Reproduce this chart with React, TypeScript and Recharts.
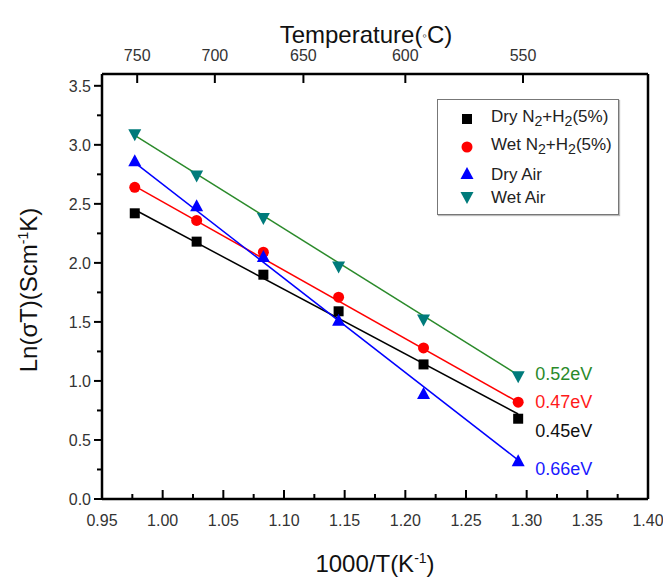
import React from 'react';
import {
  ComposedChart,
  XAxis,
  YAxis,
  Scatter,
  ReferenceLine,
} from 'recharts';

// 1000/T values of the measurement temperatures (750..500 C)
const xValues = [0.977, 1.028, 1.083, 1.145, 1.215, 1.293];
const dryN2 = [2.42, 2.18, 1.9, 1.59, 1.14, 0.68];
const wetN2 = [2.64, 2.36, 2.09, 1.71, 1.28, 0.82];
const dryAir = [2.86, 2.48, 2.05, 1.51, 0.89, 0.32];
const wetAir = [3.09, 2.74, 2.38, 1.97, 1.52, 1.04];

// linear fit end points
const fitX = [0.977, 1.293];
const dryN2Fit = [2.45, 0.72];
const wetN2Fit = [2.65, 0.82];
const dryAirFit = [2.85, 0.33];
const wetAirFit = [3.08, 1.05];

// activation energy labels
const evLabels = ['0.52eV', '0.47eV', '0.45eV', '0.66eV'];
const evY = [1.06, 0.825, 0.58, 0.254];
const evX = 1.307;

const bottomTicks = [
  0.95, 0.975, 1.0, 1.025, 1.05, 1.075, 1.1, 1.125, 1.15, 1.175, 1.2, 1.225,
  1.25, 1.275, 1.3, 1.325, 1.35, 1.375, 1.4,
];
const leftTicks = [
  0, 0.25, 0.5, 0.75, 1, 1.25, 1.5, 1.75, 2, 2.25, 2.5, 2.75, 3, 3.25, 3.5,
];
const topTickPos = [0.979, 1.043, 1.116, 1.2, 1.297];
const topTickLabels = ['750', '700', '650', '600', '550'];

const FONT = '"Liberation Sans", Arial, sans-serif';
const AXIS = '#000';
const LW = 2.5;
const TW = 2;

const toPoints = (ys: number[], xs: number[] = xValues) =>
  xs.map((x, i) => ({ x, y: ys[i] }));

const isMajor = (v: number, step: number) =>
  Math.abs(v / step - Math.round(v / step)) < 1e-6;

const BottomTick = (props: any) => {
  const { x, y, payload } = props;
  const v = payload.value;
  const major = isMajor(v, 0.05);
  const y0 = Number(y);
  return (
    <g>
      <line x1={x} x2={x} y1={y0} y2={y0 - (major ? 9 : 5)} stroke={AXIS} strokeWidth={TW} />
      {major && (
        <text x={x} y={y0 + 27} textAnchor="middle" fontSize={16} fill="#333" fontFamily={FONT}>
          {v.toFixed(2)}
        </text>
      )}
    </g>
  );
};

const LeftTick = (props: any) => {
  const { x, y, payload } = props;
  const v = payload.value;
  const major = isMajor(v, 0.5);
  const x0 = Number(x);
  return (
    <g>
      <line x1={x0} x2={x0 - (major ? 8 : 5)} y1={y} y2={y} stroke={AXIS} strokeWidth={TW} />
      {major && (
        <text x={x0 - 11} y={Number(y) + 6} textAnchor="end" fontSize={16} fill="#333" fontFamily={FONT}>
          {v.toFixed(1)}
        </text>
      )}
    </g>
  );
};

const TopTick = (props: any) => {
  const { x, y, index } = props;
  const y0 = Number(y);
  return (
    <g>
      <line x1={x} x2={x} y1={y0} y2={y0 + 9} stroke={AXIS} strokeWidth={TW} />
      <text x={x} y={y0 - 13} textAnchor="middle" fontSize={16} fill="#333" fontFamily={FONT}>
        {topTickLabels[index]}
      </text>
    </g>
  );
};

const marker = (kind: string, color: string) => (props: any) => {
  const { cx, cy } = props;
  if (cx == null || cy == null) return <g />;
  if (kind === 'square') {
    return <rect x={cx - 5} y={cy - 5} width={10} height={10} fill={color} />;
  }
  if (kind === 'circle') {
    return <circle cx={cx} cy={cy} r={5.5} fill={color} />;
  }
  if (kind === 'up') {
    return (
      <polygon
        points={`${cx},${cy - 7} ${cx - 6.5},${cy + 5} ${cx + 6.5},${cy + 5}`}
        fill={color}
      />
    );
  }
  return (
    <polygon
      points={`${cx},${cy + 7} ${cx - 6.5},${cy - 5} ${cx + 6.5},${cy - 5}`}
      fill={color}
    />
  );
};

const noDot = () => <g />;

const evColors = ['#2a8a2a', '#ff1a1a', '#111', '#1a1aff'];

const EvText = (props: any) => {
  const { cx, cy, index } = props;
  if (cx == null) return <g />;
  return (
    <text x={cx} y={cy + 6} fontSize={18} fill={evColors[index]} fontFamily={FONT}>
      {evLabels[index]}
    </text>
  );
};

const series = [
  { name: 'dryN2', data: dryN2, fit: dryN2Fit, line: '#000', fill: '#000', kind: 'square' },
  { name: 'wetN2', data: wetN2, fit: wetN2Fit, line: '#ff0000', fill: '#ff0000', kind: 'circle' },
  { name: 'dryAir', data: dryAir, fit: dryAirFit, line: '#0000ff', fill: '#0000ff', kind: 'up' },
  { name: 'wetAir', data: wetAir, fit: wetAirFit, line: '#2b8a2b', fill: '#007b7b', kind: 'down' },
];

const LegendMark = ({ kind, color }: { kind: string; color: string }) => (
  <svg width={14} height={14} style={{ display: 'block' }}>
    {marker(kind, color)({ cx: 7, cy: 7 })}
  </svg>
);

const legendRows = [
  { kind: 'square', color: '#000', label: <>Dry N<sub>2</sub>+H<sub>2</sub>(5%)</> },
  { kind: 'circle', color: '#ff0000', label: <>Wet N<sub>2</sub>+H<sub>2</sub>(5%)</> },
  { kind: 'up', color: '#0000ff', label: <>Dry Air</> },
  { kind: 'down', color: '#007b7b', label: <>Wet Air</> },
];

const App = () => {
  return (
    <div style={{ position: 'absolute', left: 0, top: 0, width: 663, height: 581, background: '#fff', fontFamily: FONT }}>
      <ComposedChart width={663} height={581} margin={{ top: 0, right: 15, bottom: 0, left: 0 }}>
        <XAxis
          xAxisId="bottom"
          type="number"
          dataKey="x"
          domain={[0.95, 1.4]}
          ticks={bottomTicks}
          interval={0}
          allowDataOverflow
          height={82}
          tickSize={0}
          tickMargin={0}
          tickLine={false}
          axisLine={{ stroke: AXIS, strokeWidth: LW }}
          tick={(p: any) => <BottomTick {...p} />}
          label={{
            content: () => (
              <text x={375} y={572} textAnchor="middle" fontSize={24} fill="#111" fontFamily={FONT}>
                1000/T(K<tspan dy={-9} fontSize={14}>-1</tspan><tspan dy={9}>)</tspan>
              </text>
            ),
          }}
        />
        <XAxis
          xAxisId="top"
          orientation="top"
          type="number"
          dataKey="x"
          domain={[0.95, 1.4]}
          ticks={topTickPos}
          interval={0}
          allowDataOverflow
          height={74}
          tickSize={0}
          tickMargin={0}
          tickLine={false}
          axisLine={{ stroke: AXIS, strokeWidth: LW }}
          tick={(p: any) => <TopTick {...p} />}
          label={{
            content: () => (
              <text x={366} y={43} textAnchor="middle" fontSize={24} fill="#111" fontFamily={FONT}>
                Temperature(<tspan fontSize={13} dy={-3}>◦</tspan><tspan dy={3}>C)</tspan>
              </text>
            ),
          }}
        />
        <YAxis
          type="number"
          dataKey="y"
          domain={[0, 3.6]}
          ticks={leftTicks}
          interval={0}
          allowDataOverflow
          width={102}
          tickSize={0}
          tickMargin={0}
          tickLine={false}
          axisLine={{ stroke: AXIS, strokeWidth: LW }}
          tick={(p: any) => <LeftTick {...p} />}
          label={{
            content: () => (
              <text
                x={37}
                y={290}
                textAnchor="middle"
                fontSize={24}
                fill="#111"
                fontFamily={FONT}
                transform="rotate(-90 37 290)"
              >
                Ln(σT)(Scm<tspan dy={-9} fontSize={14}>-1</tspan><tspan dy={9}>K)</tspan>
              </text>
            ),
          }}
        />
        <ReferenceLine xAxisId="bottom" x={1.4} stroke={AXIS} strokeWidth={LW} />

        {series.map((s) => (
          <Scatter
            key={s.name + '-fit'}
            xAxisId="bottom"
            data={toPoints(s.fit, fitX)}
            line={{ stroke: s.line, strokeWidth: 1.5 }}
            shape={noDot}
            fill={s.line}
            isAnimationActive={false}
          />
        ))}
        {series.map((s) => (
          <Scatter
            key={s.name}
            xAxisId="bottom"
            data={toPoints(s.data)}
            shape={marker(s.kind, s.fill)}
            fill={s.fill}
            isAnimationActive={false}
          />
        ))}
        <Scatter
          xAxisId="top"
          data={evY.map((y) => ({ x: evX, y }))}
          shape={(p: any) => <EvText {...p} />}
          isAnimationActive={false}
        />
      </ComposedChart>

      <div
        style={{
          position: 'absolute',
          left: 437,
          top: 99,
          width: 182,
          height: 116,
          border: '1px solid #777',
          boxSizing: 'border-box',
          boxShadow: '1px 1px 1px #bbb',
          background: '#fff',
        }}
      >
        {legendRows.map((r, i) => (
          <div
            key={i}
            style={{
              position: 'absolute',
              left: 22,
              top: [8, 36, 63, 86][i],
              display: 'flex',
              alignItems: 'center',
              height: 22,
              fontSize: 17,
              color: '#222',
              whiteSpace: 'nowrap',
              lineHeight: '17px',
            }}
          >
            <LegendMark kind={r.kind} color={r.color} />
            <span style={{ marginLeft: 17 }}>{r.label}</span>
          </div>
        ))}
      </div>
    </div>
  );
};

export default App;
